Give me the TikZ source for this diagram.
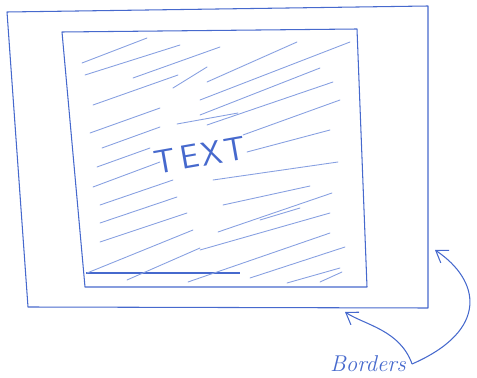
\documentclass[tikz,border=0pt]{standalone}
\usetikzlibrary{arrows.meta}
\definecolor{pen}{RGB}{70,105,205}
\definecolor{penlight}{RGB}{135,160,225}
\begin{document}
\begin{tikzpicture}[
    x=0.02cm, y=-0.02cm,
    frame/.style={draw=pen, line width=0.6pt, line join=round},
    hatch/.style={draw=penlight, line width=0.5pt, line cap=round},
    note/.style={text=pen, font=\fontsize{13}{13}\selectfont\itshape},
    callout/.style={draw=pen, line width=0.6pt, -{Straight Barb[length=2.2mm,width=3mm]}}
]
\useasboundingbox (0,0) rectangle (477,378);

% Borders
\draw[frame] (7,12) -- (428,6) -- (428,308) -- (28,307) -- cycle;
\draw[frame] (62,32) -- (357,29) -- (367,287) -- (85,287) -- cycle;
\draw[frame] (86,273) -- (240,273);

% Shading of the text area
\foreach \ax/\ay/\bx/\by in {
    82/63/147/38, 85/75/180/45, 133/78/220/47, 173/88/207/67,
    207/82/297/42, 93/105/178/75, 200/100/350/42, 90/133/160/108,
    177/124/238/113, 200/115/320/68, 207/125/333/82, 102/148/160/127,
    97/167/150/148, 243/135/340/100, 247/152/330/130, 93/187/160/162,
    100/205/173/180, 213/180/338/162, 100/223/177/197, 223/205/310/186,
    100/242/187/213, 218/232/332/193, 260/220/300/208, 87/273/193/230,
    200/250/330/213, 127/280/200/248, 188/282/330/233, 250/278/345/247,
    287/283/340/268, 320/282/342/272}
  \draw[hatch] (\ax,\ay) -- (\bx,\by);

% Labels
\node[text=pen, font=\fontsize{19}{19}\selectfont\sffamily, rotate=10] (txt) at (200,155) {T\kern3pt E\kern1.5pt X\kern1.5pt T};
\node[note] (borders) at (368,364) {Borders};

% Arrows
\coordinate (innerTip) at (345,312);
\coordinate (outerTip) at (435,250);
\draw[callout] (borders.east) .. controls (400,330) and (365,325) .. (innerTip);
\draw[callout] (borders.east) .. controls (490,330) and (480,280) .. (outerTip);
\end{tikzpicture}
\end{document}
